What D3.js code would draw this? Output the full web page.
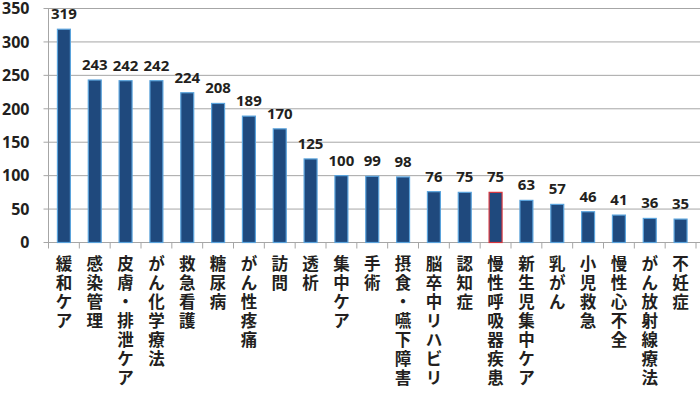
<!DOCTYPE html>
<html>
<head>
<meta charset="utf-8">
<script src="https://cdn.jsdelivr.net/npm/d3@7"></script>
<style>
  body { margin: 0; background: #fff; }
  svg { display: block; }
</style>
</head>
<body>
<div class="chart"></div>
<script>
const categories = ["緩和ケア","感染管理","皮膚・排泄ケア","がん化学療法","救急看護","糖尿病","がん性疼痛","訪問","透析","集中ケア","手術","摂食・嚥下障害","脳卒中リハビリ","認知症","慢性呼吸器疾患","新生児集中ケア","乳がん","小児救急","慢性心不全","がん放射線療法","不妊症"];
const counts = [319,243,242,242,224,208,189,170,125,100,99,98,76,75,75,63,57,46,41,36,35];
const yTicks = [0,50,100,150,200,250,300,350];
const highlighted = "慢性呼吸器疾患";

const margin = {top: 8.5, left: 48.5, right: 4, bottom: 150.5};
const W = 700, H = 393;
const width = W - margin.left - margin.right,
    height = H - margin.top - margin.bottom;

const data = categories.map((c, i) => ({name: c, value: counts[i]}));

const svg = d3.select('.chart').append('svg')
    .attr("width", W)
    .attr("height", H)
  .append("g")
    .attr("transform", `translate(${margin.left},${margin.top})`);

const xScale = d3.scaleBand()
    .domain(categories)
    .range([0, width])
    .paddingInner(0.58)
    .paddingOuter(0.29);

const yScale = d3.scaleLinear()
    .domain([0, 350])
    .range([height, 0]);

// gridlines
svg.append("g")
    .selectAll("line")
    .data(yTicks)
    .join("line")
    .attr("x1", -5)
    .attr("x2", width + 4)
    .attr("y1", d => yScale(d))
    .attr("y2", d => yScale(d))
    .attr("stroke", "#a6a6a6")
    .attr("stroke-width", 1);

// y labels
svg.append("g")
    .selectAll("text")
    .data(yTicks)
    .join("text")
    .attr("x", -19)
    .attr("y", d => yScale(d))
    .attr("dy", "0.36em")
    .attr("text-anchor", "end")
    .attr("font-family", "'Noto Sans', sans-serif")
    .attr("font-weight", "bold")
    .attr("font-size", 16)
    .attr("fill", "#231f20")
    .text(d => d);

// y axis line
svg.append("line")
    .attr("x1", 0).attr("x2", 0)
    .attr("y1", 0).attr("y2", height)
    .attr("stroke", "#a6a6a6");

// x ticks between categories
const step = xScale.step();
svg.append("g")
    .selectAll("line")
    .data(d3.range(categories.length + 1))
    .join("line")
    .attr("x1", i => i * step)
    .attr("x2", i => i * step)
    .attr("y1", height)
    .attr("y2", height + 6)
    .attr("stroke", "#a6a6a6");

svg.append("line")
    .attr("x1", 0).attr("x2", width)
    .attr("y1", height).attr("y2", height)
    .attr("stroke", "#a6a6a6");

// bars
svg.selectAll("rect.bar")
    .data(data)
    .join("rect")
    .attr("class", "bar")
    .attr("x", d => xScale(d.name))
    .attr("y", d => yScale(d.value))
    .attr("width", xScale.bandwidth())
    .attr("height", d => height - yScale(d.value))
    .attr("fill", "#1f497d")
    .attr("stroke", d => d.name === highlighted ? "#d9363e" : "#5aa3dc")
    .attr("stroke-width", 1.2);

// value labels
svg.selectAll("text.val")
    .data(data)
    .join("text")
    .attr("class", "val")
    .attr("x", d => xScale(d.name) + xScale.bandwidth() / 2)
    .attr("y", d => yScale(d.value) - 10)
    .attr("text-anchor", "middle")
    .attr("font-family", "'Noto Sans', sans-serif")
    .attr("font-weight", "bold")
    .attr("font-size", 15)
    .attr("fill", "#231f20")
    .text(d => d.value);

// vertical category labels, one character per line
const lab = svg.selectAll("text.cat")
    .data(data)
    .join("text")
    .attr("class", "cat")
    .attr("font-family", "'Noto Sans CJK JP', sans-serif")
    .attr("font-weight", "bold")
    .attr("font-size", 16.5)
    .attr("fill", "#231f20")
    .attr("text-anchor", "middle");

lab.selectAll("tspan")
    .data(d => Array.from(d.name).map((ch, i) => ({ch, i, x: xScale(d.name) + xScale.bandwidth() / 2})))
    .join("tspan")
    .attr("x", d => d.x)
    .attr("y", d => height + 27 + d.i * 19)
    .text(d => d.ch);
</script>
</body>
</html>
